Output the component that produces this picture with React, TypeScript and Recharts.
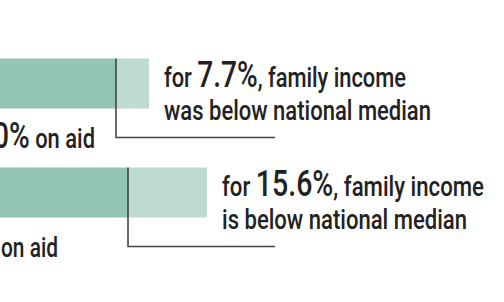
import React from "react";
import { BarChart, Bar, XAxis, YAxis, LabelList } from "recharts";

// Data read from the (cropped) reference
const groups = ["Then", "Now"];
const aidNotBelow = [53.2, 55.6]; // darker segment
const aidBelow = [6.6, 15.8]; // lighter segment (share below national median)
const belowPctLabels = ["7.7%", "15.6%"];
const line2Labels = ["was below national median", "is below national median"];
const aidBig = ["0%", ""];
const aidSmall = [" on aid", "on aid"];

const data = groups.map((g, i) => ({
  name: g,
  dark: aidNotBelow[i],
  light: aidBelow[i],
}));

const FONT = "Roboto, 'DejaVu Sans Condensed', sans-serif";
const SHIFT = 150; // chart is shifted left (cropped view)
const LINE_END = 275 + SHIFT;
const AID_RIGHT = [95 + SHIFT, 58 + SHIFT];
const LEN1 = [242, 262];
const LEN2 = [267, 245];
const AID_LEN = [102, 57];

const Annotation = (props: any) => {
  const { x, y, width, height, index } = props;
  const bx = Number(x);
  const by = Number(y);
  const bw = Number(width);
  const bh = Number(height);
  const tx = bx + bw + 15;
  return (
    <g>
      <path
        d={`M${bx},${by} V${by + bh + 29} H${LINE_END}`}
        fill="none"
        stroke="#444"
        strokeWidth={1.6}
      />
      <text
        x={tx}
        y={by + 28}
        fontFamily={FONT}
        fontWeight={500}
        fontSize={28}
        fill="#222"
        textLength={LEN1[index]}
        lengthAdjust="spacingAndGlyphs"
      >
        <tspan>for </tspan>
        <tspan fontSize={36}>{belowPctLabels[index]}</tspan>
        <tspan>, family income</tspan>
      </text>
      <text
        x={tx}
        y={by + 61}
        fontFamily={FONT}
        fontWeight={500}
        fontSize={28}
        fill="#222"
        textLength={LEN2[index]}
        lengthAdjust="spacingAndGlyphs"
      >
        {line2Labels[index]}
      </text>
      <text
        x={AID_RIGHT[index]}
        y={by + bh + 39}
        textAnchor="end"
        fontFamily={FONT}
        fontWeight={500}
        fontSize={28}
        fill="#222"
        textLength={AID_LEN[index]}
        lengthAdjust="spacingAndGlyphs"
      >
        {aidBig[index] ? <tspan fontSize={36}>{aidBig[index]}</tspan> : null}
        <tspan>{aidSmall[index]}</tspan>
      </text>
    </g>
  );
};

export default function App() {
  return (
    <div
      style={{
        position: "fixed",
        left: 0,
        top: 0,
        width: 504,
        height: 302,
        overflow: "hidden",
        background: "#fff",
      }}
    >
      <div style={{ position: "absolute", left: -SHIFT, top: 0 }}>
        <BarChart
          width={504 + SHIFT}
          height={302}
          data={data}
          layout="vertical"
          margin={{ top: 28.5, right: 154, bottom: 55.5, left: 0 }}
        >
          <XAxis type="number" domain={[0, 100]} hide />
          <YAxis type="category" dataKey="name" hide />
          <Bar dataKey="dark" stackId="a" fill="#93c4b4" barSize={50} isAnimationActive={false} />
          <Bar dataKey="light" stackId="a" fill="#bddbd1" barSize={50} isAnimationActive={false}>
            <LabelList dataKey="light" content={Annotation} />
          </Bar>
        </BarChart>
      </div>
    </div>
  );
}
